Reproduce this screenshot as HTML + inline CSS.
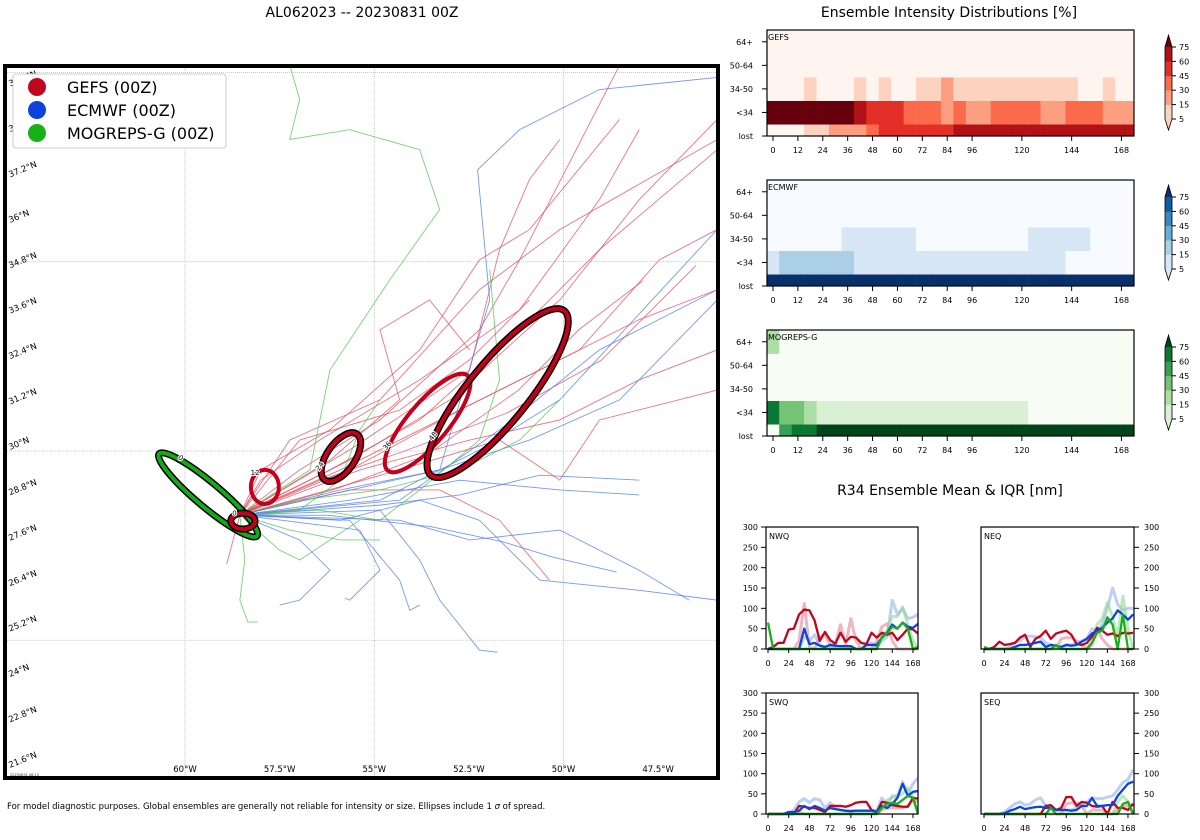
<!DOCTYPE html>
<html><head><meta charset="utf-8"><style>
body{margin:0;background:#fff;width:1200px;height:840px;overflow:hidden}
svg{display:block;font-family:"DejaVu Sans","Liberation Sans",sans-serif}
</style></head><body>
<svg id="s" width="1200" height="840" viewBox="0 0 1200 840" xmlns="http://www.w3.org/2000/svg">
<text x="362" y="17" font-size="14" text-anchor="middle">AL062023 -- 20230831 00Z</text>
<text x="949" y="17" font-size="14" text-anchor="middle">Ensemble Intensity Distributions [%]</text>
<text x="950" y="495" font-size="14" text-anchor="middle">R34 Ensemble Mean &amp; IQR [nm]</text>
<text x="7" y="809" font-size="8.5">For model diagnostic purposes. Global ensembles are generally not reliable for intensity or size. Ellipses include 1 <tspan font-style="italic">σ</tspan> of spread.</text>
<g id="map"></g>
<g id="heat"></g>
<g id="r34"></g>
</svg>
<script>
// ---------- MAP DATA ----------
const gefsTracks=[
[[-58.55,28.31],[-56.17,29.5],[-53.8,30.82],[-51.16,33.2],[-49.05,35.32],[-45.94,37.96]],
[[-58.55,28.31],[-55.65,29.76],[-53.0,31.35],[-50.1,33.99],[-48.0,36.64],[-45.94,38.76]],
[[-58.55,28.31],[-55.9,29.5],[-53.27,30.82],[-50.63,32.14],[-48.0,33.47],[-45.94,34.26]],
[[-58.55,28.31],[-55.65,30.03],[-52.48,32.14],[-51.69,35.32],[-50.9,37.17],[-50.1,38.23]],
[[-58.55,28.31],[-56.17,29.76],[-54.33,31.35],[-54.85,33.2],[-53.54,33.99],[-52.48,32.67]],
[[-58.55,28.31],[-55.38,29.5],[-52.48,30.29],[-50.1,30.82],[-48.0,31.88],[-45.94,32.67]],
[[-58.55,28.31],[-55.65,28.97],[-53.27,28.97],[-51.69,28.17],[-50.37,26.59]],
[[-58.55,28.31],[-56.97,29.5],[-54.85,30.82],[-52.22,33.2],[-51.16,35.05],[-48.52,40.19]],
[[-58.55,28.31],[-58.0,29.23],[-56.44,30.29],[-53.8,31.88],[-51.16,33.73],[-49.05,36.64],[-48.0,38.49]],
[[-58.55,28.31],[-55.65,29.5],[-52.74,31.08],[-49.58,32.67],[-47.47,35.05],[-45.94,35.85]],
[[-58.55,28.31],[-56.97,30.29],[-54.33,31.08],[-52.48,32.41],[-50.9,33.99]],
[[-58.55,28.31],[-58.8,27.38],[-58.9,27.0]],
[[-58.55,28.31],[-54.33,29.5],[-51.69,30.29],[-50.1,29.23],[-49.05,30.82],[-45.94,31.61]],
[[-58.55,28.31],[-57.23,30.29],[-54.85,31.35],[-52.22,34.26],[-50.1,35.85],[-45.94,38.23]],
[[-58.55,28.31],[-58.0,29.5],[-56.17,30.56],[-53.8,32.67],[-52.22,35.05],[-50.9,35.85],[-48.52,38.76]],
[[-58.55,28.31],[-56.5,29.2],[-54.2,30.0],[-51.5,31.0],[-49.0,32.4],[-46.5,34.9]],
[[-58.55,28.31],[-56.0,29.0],[-53.6,29.9],[-51.2,31.6],[-49.6,33.2],[-47.9,34.5]]
];
const ecmwfTracks=[
[[-58.55,28.31],[-55.9,28.97],[-53.27,29.5],[-50.9,30.29],[-48.52,31.35],[-45.94,33.99]],
[[-58.55,28.31],[-55.65,28.7],[-52.74,29.23],[-50.1,28.97],[-48.0,28.84]],
[[-58.55,28.31],[-55.9,28.17],[-53.8,28.7],[-52.22,28.17],[-50.63,26.59],[-48.0,26.32],[-45.94,26.06]],
[[-58.55,28.31],[-56.97,27.65],[-56.17,26.85],[-56.97,26.06],[-57.5,25.93]],
[[-58.55,28.31],[-55.38,27.91],[-54.85,26.85],[-55.65,26.06],[-55.78,26.11]],
[[-58.55,28.31],[-54.85,28.44],[-53.8,27.12],[-53.27,26.06],[-52.22,24.74],[-51.74,24.68]],
[[-58.55,28.31],[-55.65,28.17],[-54.33,26.59],[-54.06,25.79],[-53.8,25.93]],
[[-58.55,28.31],[-53.27,29.5],[-51.95,33.99],[-52.27,37.43],[-51.16,38.49],[-49.05,39.55],[-45.94,39.87]],
[[-58.55,28.31],[-54.33,28.7],[-51.69,30.56],[-49.05,32.67],[-45.94,34.26]],
[[-58.55,28.31],[-54.85,28.7],[-52.22,30.03],[-50.1,31.35],[-45.94,35.85]],
[[-58.55,28.31],[-54.33,28.17],[-52.48,27.65],[-50.1,27.91],[-48.0,26.85],[-46.68,26.06]],
[[-58.55,28.31],[-54.85,28.57],[-52.74,28.84],[-50.63,29.36],[-48.0,29.23]],
[[-58.55,28.31],[-56.2,28.3],[-53.5,28.0],[-51.6,27.6],[-50.3,27.2],[-48.6,26.8]]
];
const mogrepsTracks=[
[[-58.55,28.31],[-56.7,29.5],[-56.17,32.14],[-54.59,34.52],[-53.27,36.38],[-53.8,37.96],[-55.65,38.49],[-57.23,38.23],[-56.97,39.29],[-57.23,40.19]],
[[-58.55,28.31],[-56.97,28.44],[-55.9,29.23],[-55.38,30.56],[-54.85,31.35]],
[[-58.55,28.31],[-58.42,27.12],[-58.55,26.06],[-58.34,25.48],[-58.07,25.48]],
[[-58.55,28.31],[-57.5,27.38],[-56.97,27.12],[-56.17,27.65],[-55.38,28.17]],
[[-58.55,28.31],[-56.44,28.44],[-54.85,28.17],[-53.8,28.97],[-52.22,30.29],[-51.69,31.88],[-51.95,34.79]],
[[-58.55,28.31],[-57.23,27.91],[-55.9,27.65],[-54.85,27.65]],
[[-58.55,28.31],[-56.97,28.7],[-54.85,28.97],[-52.74,29.5],[-51.16,30.29],[-50.1,31.35]]
];
// ellipses: [lon, lat, semiMajorDeg, semiMinorDeg, angleDeg, hour]
const gefsEllipses=[[-58.47,28.15,0.32,0.21,0,0],[-57.89,29.05,0.37,0.45,0,12],[-55.88,29.84,0.74,0.37,-55,24],[-53.59,30.74,1.64,0.53,-50,36],[-51.74,31.53,2.8,0.79,-51,48]];
const gefsOutlined=[true,false,true,false,true];
const mogrepsEllipses=[[-59.39,28.84,1.69,0.32,40,0]];
const latTicks=[21.6,22.8,24,25.2,26.4,27.6,28.8,30,31.2,32.4,33.6,34.8,36,37.2,38.4,39.6];
const lonTicks=[-60,-57.5,-55,-52.5,-50,-47.5];

const NS="http://www.w3.org/2000/svg";
function mk(tag,attrs,parent){const e=document.createElementNS(NS,tag);for(const k in attrs)e.setAttribute(k,attrs[k]);parent.appendChild(e);return e;}
const PX=37.85;
function lonX(l){return 185+(l+60)*PX;}
function latY(l){return 451-(l-30)*PX;}

const map=document.getElementById('map');
mk('rect',{x:5,y:66,width:713,height:712,fill:'#fff'},map);
const clip=mk('clipPath',{id:'mc'},map);mk('rect',{x:5,y:66,width:713,height:712},clip);
const grid=mk('g',{'clip-path':'url(#mc)'},map);
[25,30,35,40].forEach(la=>{const l=mk('line',{x1:5,x2:718,y1:latY(la),y2:latY(la),stroke:'#bbb','stroke-width':0.8,'stroke-dasharray':'1,1'},grid);

});
[-60,-55,-50].forEach(lo=>{const l=mk('line',{x1:lonX(lo),x2:lonX(lo),y1:66,y2:778,stroke:'#bbb','stroke-width':0.8,'stroke-dasharray':'1,1'},grid);

});
function drawTracks(tracks,color,name){tracks.forEach(t=>{const p=mk('polyline',{points:t.map(q=>lonX(q[0])+','+latY(q[1])).join(' '),fill:'none',stroke:color,'stroke-width':0.9,opacity:0.75},grid);

});}
drawTracks(gefsTracks,'#dc4a5a','gefs-track');
drawTracks(ecmwfTracks,'#4a78e8','ecmwf-track');
drawTracks(mogrepsTracks,'#4cc04c','mogreps-track');
function drawEll(e,color,outline,name){const cx=lonX(e[0]),cy=latY(e[1]),rx=e[2]*PX,ry=e[3]*PX;
const g=mk('g',{transform:`translate(${cx},${cy}) rotate(${e[4]})`},grid);


if(outline)mk('ellipse',{cx:0,cy:0,rx:rx,ry:ry,fill:'none',stroke:'#000','stroke-width':7},g);
mk('ellipse',{cx:0,cy:0,rx:rx,ry:ry,fill:'none',stroke:color,'stroke-width':4},g);
const lt=mk('text',{x:-rx*0.7,y:-ry*0.7,'font-size':7,'text-anchor':'middle',fill:'#000',stroke:'#fff','stroke-width':2,'paint-order':'stroke'},g);lt.textContent=e[5];}
mogrepsEllipses.forEach(e=>drawEll(e,'#17a817',true,'mogreps-ellipse'));
gefsEllipses.forEach((e,i)=>drawEll(e,'#c2001b',gefsOutlined[i],'gefs-ellipse'));
latTicks.forEach(la=>{const yy=latY(la)-1;const t=mk('text',{x:10,y:yy,'font-size':8.5,transform:`rotate(-22 10 ${yy})`},map);t.textContent=la+'°N';

});
lonTicks.forEach(lo=>{const t=mk('text',{x:lonX(lo),y:772,'font-size':8.5,'text-anchor':'middle'},map);t.textContent=(-lo)+'°W';

});
const stamp=mk('text',{x:10,y:776,'font-size':3.5,fill:'#333'},map);stamp.textContent='20230831 08:13';
mk('rect',{x:5,y:66,width:713,height:712,fill:'none',stroke:'#000','stroke-width':4},map);
// legend
const leg=mk('g',{},map);


mk('rect',{x:13,y:74,width:213,height:74,rx:3,fill:'#fff',stroke:'#ccc','stroke-width':1},leg);
[['GEFS (00Z)','#c0061e'],['ECMWF (00Z)','#0a44dd'],['MOGREPS-G (00Z)','#17b017']].forEach((d,i)=>{
const y=87+i*23;const g=mk('g',{},leg);


mk('circle',{cx:37,cy:y,r:9,fill:d[1]},g);const t=mk('text',{x:67,y:y+6,'font-size':16},g);t.textContent=d[0];});

// ---------- HEATMAP DATA ----------
const heatHours=[0,6,12,18,24,30,36,42,48,54,60,66,72,78,84,90,96,102,108,114,120,126,132,138,144,150,156,162,168,174];
const heatRows=['lost','<34','34-50','50-64','64+'];
const gefsLost=[0,0,0,10,10,20,20,20,35,50,50,50,50,50,50,65,65,65,65,65,65,65,65,65,65,65,65,65,65,65];
const gefsLt34=[80,80,80,80,80,80,80,65,50,50,50,35,35,35,20,35,20,20,35,35,35,35,20,20,35,35,35,20,20,20];
const gefs3450=[0,0,0,10,0,0,0,10,0,10,0,0,10,10,20,10,10,10,10,10,10,10,10,10,10,0,0,10,0,0];
const gefs5064=[0,0,0,0,0,0,0,0,0,0,0,0,0,0,0,0,0,0,0,0,0,0,0,0,0,0,0,0,0,0];
const gefs64=[0,0,0,0,0,0,0,0,0,0,0,0,0,0,0,0,0,0,0,0,0,0,0,0,0,0,0,0,0,0];
const ecLost=[80,80,80,80,80,80,80,80,80,80,80,80,80,80,80,80,80,80,80,80,80,80,80,80,80,80,80,80,80,80];
const ecLt34=[10,20,20,20,20,20,20,10,10,10,10,10,10,10,10,10,10,10,10,10,10,10,10,10,0,0,0,0,0,0];
const ec3450=[0,0,0,0,0,0,10,10,10,10,10,10,0,0,0,0,0,0,0,0,0,10,10,10,10,10,0,0,0,0];
const ec5064=[0,0,0,0,0,0,0,0,0,0,0,0,0,0,0,0,0,0,0,0,0,0,0,0,0,0,0,0,0,0];
const ec64=[0,0,0,0,0,0,0,0,0,0,0,0,0,0,0,0,0,0,0,0,0,0,0,0,0,0,0,0,0,0];
const moLost=[0,50,65,65,80,80,80,80,80,80,80,80,80,80,80,80,80,80,80,80,80,80,80,80,80,80,80,80,80,80];
const moLt34=[65,35,35,20,10,10,10,10,10,10,10,10,10,10,10,10,10,10,10,10,10,0,0,0,0,0,0,0,0,0];
const mo3450=[0,0,0,0,0,0,0,0,0,0,0,0,0,0,0,0,0,0,0,0,0,0,0,0,0,0,0,0,0,0];
const mo5064=[0,0,0,0,0,0,0,0,0,0,0,0,0,0,0,0,0,0,0,0,0,0,0,0,0,0,0,0,0,0];
const mo64=[20,0,0,0,0,0,0,0,0,0,0,0,0,0,0,0,0,0,0,0,0,0,0,0,0,0,0,0,0,0];
const levels=[5,15,30,45,60,75];
const heatTicks=[0,12,24,36,48,60,72,84,96,120,144,168];
const cbTicks=[5,15,30,45,60,75];
const reds=['#fff5f0','#fdd2bf','#fc9e80','#fb6a4a','#e32f27','#b11218','#67000d'];
const blues=['#f7fbff','#d6e6f4','#abd0e6','#6aaed6','#3787c0','#105ba4','#08306b'];
const greens=['#f7fcf5','#d9f0d3','#addea6','#74c476','#37a055','#0b7734','#00441b'];
const heat=document.getElementById('heat');
function lvl(v){let i=0;while(i<levels.length&&v>=levels[i])i++;return i;}
const HX0=767,HX1=1134,HS=2.074,H0=773;
function hx(h){return Math.max(HX0,Math.min(HX1,H0+h*HS));}
function drawHeat(top,label,rows,cols,name){
const g=mk('g',{},heat);


const hgt=106,unit=hgt/4.5;
function ry(r){return top+hgt-r*unit;}
rows.forEach((arr,r)=>{arr.forEach((v,i)=>{const x0=hx(heatHours[i]-3),x1=hx(heatHours[i]+3);
const y0=Math.max(top,ry(r+0.5)),y1=Math.min(top+hgt,ry(r-0.5));
const c=mk('rect',{x:x0,y:y0,width:x1-x0+0.3,height:y1-y0+0.3,fill:cols[lvl(v)]},g);

});});
mk('rect',{x:HX0,y:top,width:HX1-HX0,height:hgt,fill:'none',stroke:'#000','stroke-width':1.2},g);
const lt=mk('text',{x:HX0+1,y:top+10,'font-size':8},g);lt.textContent=label;
heatRows.forEach((n,r)=>{const y=ry(r);mk('line',{x1:HX0-5,x2:HX0,y1:y,y2:y,stroke:'#000'},g);
const t=mk('text',{x:HX0-14,y:y+3,'font-size':8,'text-anchor':'end'},g);t.textContent=n;

});
heatTicks.forEach(h=>{const x=H0+h*HS;mk('line',{x1:x,x2:x,y1:top+hgt,y2:top+hgt+5,stroke:'#000'},g);
const t=mk('text',{x:x,y:top+hgt+17,'font-size':8,'text-anchor':'middle'},g);t.textContent=h;

});
// colorbar
const cb=mk('g',{},g);


const cx0=1165,cw=7,yT=top+17,yB=top+89,st=(yB-yT)/5;
mk('polygon',{points:`${cx0},${yB} ${cx0+cw},${yB} ${cx0+cw/2},${top+100}`,fill:cols[1]},cb);
for(let k=0;k<5;k++)mk('rect',{x:cx0,y:yB-(k+1)*st,width:cw,height:st+0.3,fill:cols[k+1]},cb);
mk('polygon',{points:`${cx0},${yT} ${cx0+cw},${yT} ${cx0+cw/2},${top+5}`,fill:cols[6]},cb);
mk('polygon',{points:`${cx0},${yT} ${cx0+cw/2},${top+5} ${cx0+cw},${yT} ${cx0+cw},${yB} ${cx0+cw/2},${top+100} ${cx0},${yB}`,fill:'none',stroke:'#000','stroke-width':0.8},cb);
cbTicks.forEach((v,k)=>{const yy=k==0?yB:yT+(5-k)*st;
mk('line',{x1:cx0+cw,x2:cx0+cw+4,y1:yy,y2:yy,stroke:'#000'},cb);
const t=mk('text',{x:cx0+cw+7,y:yy+3,'font-size':8},cb);t.textContent=v;});
}
drawHeat(30,'GEFS',[gefsLost,gefsLt34,gefs3450,gefs5064,gefs64],reds,'gefs-heatmap');
drawHeat(180,'ECMWF',[ecLost,ecLt34,ec3450,ec5064,ec64],blues,'ecmwf-heatmap');
drawHeat(330,'MOGREPS-G',[moLost,moLt34,mo3450,mo5064,mo64],greens,'mogreps-heatmap');

// ---------- R34 DATA ----------
const r34Hours=[0,6,12,18,24,30,36,42,48,54,60,66,72,78,84,90,96,102,108,114,120,126,132,138,144,150,156,162,168,174];
const nwqGefs=[0,5,15,15,48,50,85,97,95,70,20,42,22,13,40,18,30,28,15,12,40,28,40,35,40,22,35,50,48,38];
const nwqEc=[0,0,0,0,0,0,0,50,12,15,8,5,10,8,7,7,7,0,0,10,10,10,28,40,60,50,65,55,52,62];
const nwqMo=[65,0,0,0,0,0,0,0,0,0,0,0,0,0,0,0,0,0,0,0,0,0,30,38,55,50,65,50,0,5];
const nwqGefsIqr=[0,0,0,0,0,0,20,112,5,0,30,35,10,12,60,10,75,20,0,0,0,20,55,62,20,0,0,0,0,0];
const nwqEcIqr=[0,0,0,0,0,0,0,30,20,35,10,5,5,5,5,5,5,0,0,10,15,5,20,30,120,85,100,75,78,85];
const nwqMoIqr=[0,0,0,0,0,0,0,0,0,0,0,0,0,0,0,0,0,0,0,0,0,0,30,45,80,80,103,60,20,0];
const neqGefs=[0,0,5,18,10,12,15,28,35,5,25,32,45,25,38,42,45,35,12,10,15,30,52,45,35,38,32,40,38,40];
const neqEc=[0,0,0,0,0,0,5,10,10,12,15,18,5,10,8,5,10,8,10,18,25,38,45,52,65,75,95,85,72,85];
const neqMo=[5,0,0,0,0,0,0,0,0,0,0,0,0,0,10,0,0,0,0,0,0,15,40,45,78,60,0,85,0,0];
const neqGefsIqr=[0,0,0,0,0,0,0,0,0,0,0,0,0,0,0,25,28,28,20,10,0,10,50,25,10,0,0,0,0,0];
const neqEcIqr=[0,0,0,0,0,5,15,20,30,32,30,28,15,10,8,5,10,10,15,20,25,50,45,60,100,150,110,95,100,100];
const neqMoIqr=[0,0,0,0,0,0,0,0,0,0,0,0,0,0,0,0,0,0,0,0,0,20,60,75,115,80,30,130,50,0];
const swqGefs=[0,0,0,0,0,0,20,18,15,15,10,5,20,20,20,18,22,28,30,30,10,5,30,28,22,20,18,18,40,38];
const swqEc=[0,0,0,0,5,5,8,20,12,20,15,8,15,12,10,8,7,8,8,8,8,5,20,15,25,40,75,45,55,57];
const swqMo=[0,0,0,0,0,0,0,0,0,0,0,0,0,0,0,0,0,0,0,0,0,0,15,25,28,25,35,45,40,0];
const swqGefsIqr=[0,0,0,0,0,0,5,0,0,0,0,0,0,0,0,0,0,0,0,0,0,0,10,15,15,15,15,20,35,30];
const swqEcIqr=[0,0,0,0,0,10,30,38,28,38,35,15,28,15,10,8,8,8,8,8,8,10,40,20,45,45,80,50,75,90];
const swqMoIqr=[0,0,0,0,0,0,0,0,0,0,0,0,0,0,0,0,0,0,0,0,0,0,20,35,40,45,50,65,40,0];
const seqGefs=[0,0,0,0,0,0,0,0,0,0,0,0,20,22,10,15,42,42,20,30,28,20,18,20,0,30,15,15,10,25];
const seqEc=[0,0,0,0,2,8,12,18,12,15,17,18,15,15,10,10,10,8,10,20,20,40,20,20,22,22,45,60,75,80];
const seqMo=[0,0,0,0,0,0,0,0,0,0,0,0,0,15,0,0,0,0,0,0,0,0,0,0,0,0,0,25,30,0];
const seqGefsIqr=[0,0,0,0,0,0,0,0,0,0,0,0,0,0,0,0,25,28,28,20,0,10,10,10,0,0,10,20,20,25];
const seqEcIqr=[0,0,0,0,5,15,25,30,22,25,35,40,20,15,10,10,10,10,15,25,30,40,38,38,42,45,60,78,85,110];
const seqMoIqr=[0,0,0,0,0,0,0,0,0,0,0,0,0,0,0,0,0,0,0,0,0,0,0,0,0,0,30,45,30,0];
const r34Ticks=[0,50,100,150,200,250,300];
const r34XTicks=[0,24,48,72,96,120,144,168];
const r34=document.getElementById('r34');
function drawR34(px0,px1,x0h,hs,top,bot,label,right,series,name){
const g=mk('g',{},r34);


const xs=h=>x0h+h*hs, ys=v=>bot-v*(bot-top)/300;
const cp=mk('clipPath',{id:'c'+name},g);mk('rect',{x:px0,y:top,width:px1-px0,height:bot-top+2},cp);
const pg=mk('g',{'clip-path':`url(#c${name})`},g);
series.forEach(s=>{const p=mk('polyline',{points:s[0].map((v,i)=>xs(r34Hours[i])+','+ys(v)).join(' '),fill:'none',stroke:s[1],'stroke-width':s[2],opacity:s[3],'stroke-linejoin':'round'},pg);

});
mk('rect',{x:px0,y:top,width:px1-px0,height:bot-top,fill:'none',stroke:'#000','stroke-width':1.2},g);
const lt=mk('text',{x:px0+3,y:top+12,'font-size':8},g);lt.textContent=label;
r34Ticks.forEach(v=>{const y=ys(v);const ax=right?px1:px0;
mk('line',{x1:ax,x2:right?ax+5:ax-5,y1:y,y2:y,stroke:'#000'},g);
const t=mk('text',{x:right?ax+10:ax-8,y:y+3,'font-size':8,'text-anchor':right?'start':'end'},g);t.textContent=v;});
r34XTicks.forEach(h=>{const x=xs(h);mk('line',{x1:x,x2:x,y1:bot,y2:bot+4,stroke:'#000'},g);
const t=mk('text',{x:x,y:bot+17,'font-size':8,'text-anchor':'middle'},g);t.textContent=h;});
}
function ser(g,e,m,gi,ei,mi){return [[gi,'#e07a8a',3,0.55,'gefs-iqr'],[ei,'#8fb0f0',3,0.6,'ecmwf-iqr'],[mi,'#8fd88f',3,0.6,'mogreps-iqr'],[g,'#c0061e',2.3,1,'gefs-mean'],[e,'#0a44dd',2.3,1,'ecmwf-mean'],[m,'#17b017',2.3,1,'mogreps-mean']];}
drawR34(766,918,768,0.863,527,649,'NWQ',false,ser(nwqGefs,nwqEc,nwqMo,nwqGefsIqr,nwqEcIqr,nwqMoIqr),'nwq-panel');
drawR34(981,1134,984,0.857,527,649,'NEQ',true,ser(neqGefs,neqEc,neqMo,neqGefsIqr,neqEcIqr,neqMoIqr),'neq-panel');
drawR34(766,918,768,0.863,693,814,'SWQ',false,ser(swqGefs,swqEc,swqMo,swqGefsIqr,swqEcIqr,swqMoIqr),'swq-panel');
drawR34(981,1134,984,0.857,693,814,'SEQ',true,ser(seqGefs,seqEc,seqMo,seqGefsIqr,seqEcIqr,seqMoIqr),'seq-panel');
</script>
</body></html>
